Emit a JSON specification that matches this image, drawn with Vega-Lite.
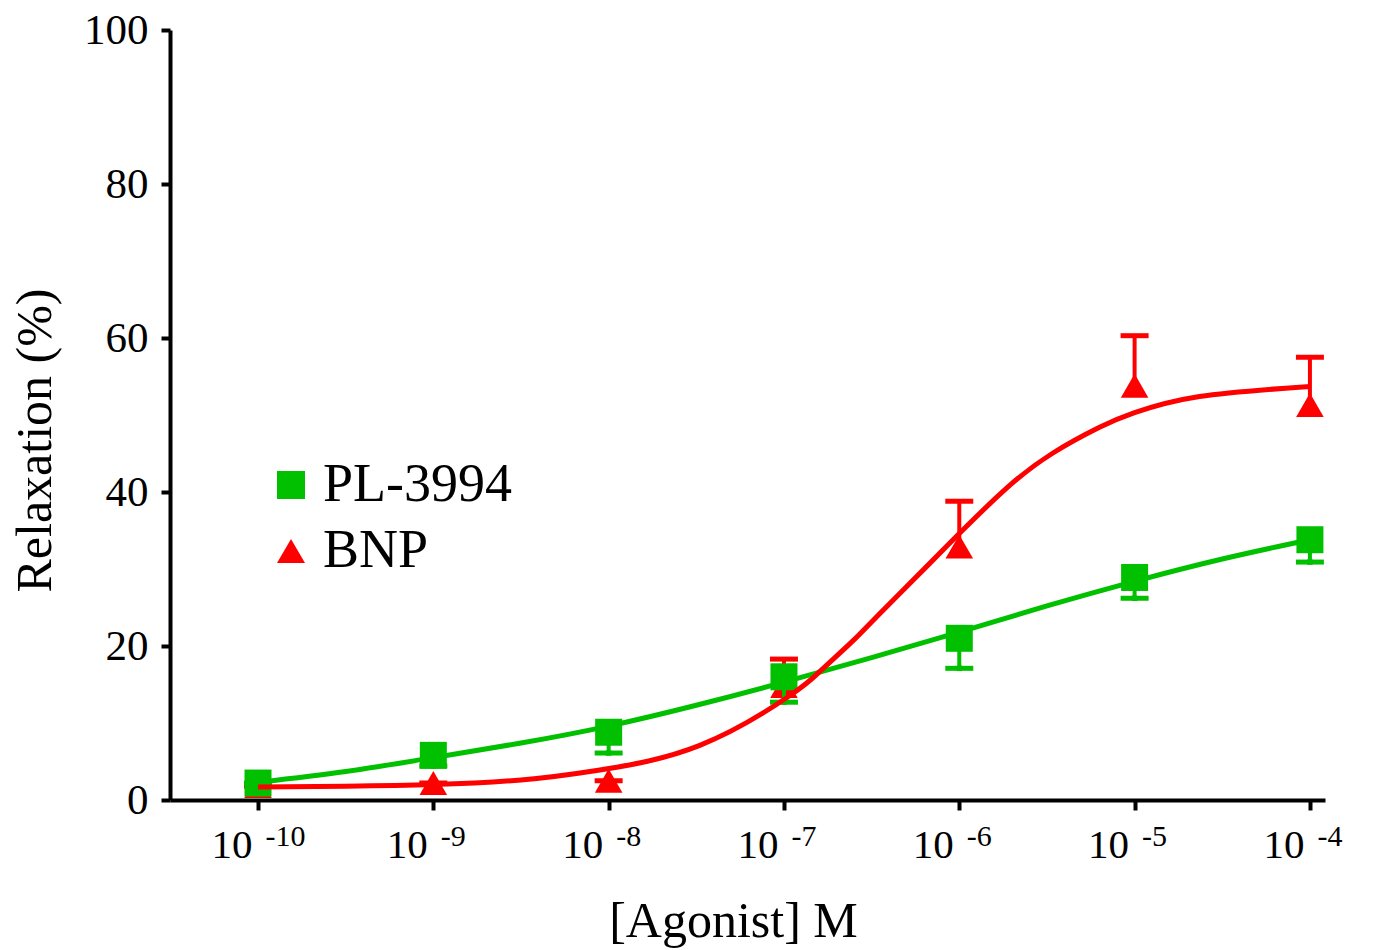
{
  "$schema": "https://vega.github.io/schema/vega-lite/v6.json",
  "autosize": {"type": "none"},
  "padding": {"left": 170, "top": 30, "right": 51, "bottom": 150},
  "width": 1155,
  "height": 770,
  "background": "white",
  "config": {
    "font": "Liberation Serif",
    "view": {"stroke": null},
    "axis": {"domainColor": "black", "tickColor": "black", "labelColor": "black", "titleColor": "black", "grid": false, "titleFontWeight": "normal"},
    "legend": {"labelFont": "Liberation Serif", "labelLimit": 500}
  },
  "datasets": {
    "points": [
      {"series": "BNP", "logx": -10, "y": 1.8, "lo": 1.8, "hi": 1.8, "cap": 1.8},
      {"series": "BNP", "logx": -9, "y": 2.2, "lo": 2.2, "hi": 2.2, "cap": 2.2},
      {"series": "BNP", "logx": -8, "y": 2.5, "lo": 2.5, "hi": 2.5, "cap": 2.5},
      {"series": "BNP", "logx": -7, "y": 14.8, "lo": 14.8, "hi": 18.3, "cap": 18.3},
      {"series": "BNP", "logx": -6, "y": 32.9, "lo": 32.9, "hi": 38.8, "cap": 38.8},
      {"series": "BNP", "logx": -5, "y": 53.8, "lo": 53.8, "hi": 60.3, "cap": 60.3},
      {"series": "BNP", "logx": -4, "y": 51.3, "lo": 51.3, "hi": 57.5, "cap": 57.5},
      {"series": "PL-3994", "logx": -10, "y": 2.2, "lo": 2.2, "hi": 2.2, "cap": 2.2},
      {"series": "PL-3994", "logx": -9, "y": 5.8, "lo": 4.4, "hi": 5.8, "cap": 4.4},
      {"series": "PL-3994", "logx": -8, "y": 8.8, "lo": 6.1, "hi": 8.8, "cap": 6.1},
      {"series": "PL-3994", "logx": -7, "y": 16.0, "lo": 12.7, "hi": 16.0, "cap": 12.7},
      {"series": "PL-3994", "logx": -6, "y": 21.0, "lo": 17.1, "hi": 21.0, "cap": 17.1},
      {"series": "PL-3994", "logx": -5, "y": 28.9, "lo": 26.2, "hi": 28.9, "cap": 26.2},
      {"series": "PL-3994", "logx": -4, "y": 33.8, "lo": 30.9, "hi": 33.8, "cap": 30.9}
    ],
    "curves": [
      {"series": "PL-3994", "logx": -10, "y": 2.3},
      {"series": "PL-3994", "logx": -9.5, "y": 3.7},
      {"series": "PL-3994", "logx": -9, "y": 5.5},
      {"series": "PL-3994", "logx": -8.5, "y": 7.4},
      {"series": "PL-3994", "logx": -8, "y": 9.6},
      {"series": "PL-3994", "logx": -7.5, "y": 12.3},
      {"series": "PL-3994", "logx": -7, "y": 15.3},
      {"series": "PL-3994", "logx": -6.5, "y": 18.5},
      {"series": "PL-3994", "logx": -6, "y": 21.8},
      {"series": "PL-3994", "logx": -5.5, "y": 25.2},
      {"series": "PL-3994", "logx": -5, "y": 28.4},
      {"series": "PL-3994", "logx": -4.5, "y": 31.3},
      {"series": "PL-3994", "logx": -4, "y": 33.8},
      {"series": "BNP", "logx": -10, "y": 1.7},
      {"series": "BNP", "logx": -9.5, "y": 1.8},
      {"series": "BNP", "logx": -9, "y": 2.0},
      {"series": "BNP", "logx": -8.5, "y": 2.6},
      {"series": "BNP", "logx": -8.05, "y": 3.9},
      {"series": "BNP", "logx": -7.48, "y": 7.1},
      {"series": "BNP", "logx": -6.97, "y": 13.5},
      {"series": "BNP", "logx": -6.79, "y": 16.8},
      {"series": "BNP", "logx": -6.61, "y": 20.6},
      {"series": "BNP", "logx": -6.45, "y": 24.3},
      {"series": "BNP", "logx": -6.17, "y": 30.7},
      {"series": "BNP", "logx": -6.0, "y": 34.6},
      {"series": "BNP", "logx": -5.73, "y": 40.5},
      {"series": "BNP", "logx": -5.47, "y": 45.0},
      {"series": "BNP", "logx": -5.2, "y": 48.4},
      {"series": "BNP", "logx": -5.0, "y": 50.3},
      {"series": "BNP", "logx": -4.63, "y": 52.4},
      {"series": "BNP", "logx": -4.0, "y": 53.7}
    ]
  },
  "resolve": {"axis": {"x": "independent"}},
  "layer": [
    {
      "data": {"name": "points"},
      "encoding": {
        "x": {
          "field": "logx", "type": "quantitative",
          "scale": {"domain": [-10.502, -3.914], "nice": false, "zero": false},
          "axis": {
            "values": [-10, -9, -8, -7, -6, -5, -4],
            "labelExpr": "'10'",
            "labelAlign": "right",
            "labelOffset": -6,
            "labelFontSize": 41,
            "labelBaseline": "top",
            "labelPadding": 15,
            "labelFlush": false,
            "labelOverlap": false,
            "tickSize": 10,
            "tickWidth": 4,
            "domainWidth": 4,
            "title": "[Agonist] M",
            "titleFontSize": 50,
            "titleX": 563,
            "titleY": 136,
            "titleAlign": "center",
            "titleBaseline": "alphabetic"
          }
        },
        "y": {
          "field": "y", "type": "quantitative",
          "scale": {"domain": [0, 100], "nice": false},
          "axis": {
            "values": [0, 20, 40, 60, 80, 100],
            "labelFontSize": 43,
            "labelPadding": 13,
            "labelBaseline": "middle",
            "labelFlush": false,
            "tickSize": 9,
            "tickWidth": 4,
            "domainWidth": 4,
            "title": "Relaxation (%)",
            "titleFontSize": 50,
            "titleAngle": 270,
            "titleX": -135,
            "titleY": 410,
            "titleAlign": "center",
            "titleBaseline": "middle"
          }
        },
        "color": {
          "field": "series", "type": "nominal",
          "scale": {"domain": ["PL-3994", "BNP"], "range": ["#00c000", "#ff0000"]},
          "legend": {
            "orient": "none", "legendX": 94, "legendY": 428, "title": null,
            "labelFontSize": 54, "labelLimit": 500, "symbolSize": 784, "rowPadding": 12, "padding": 0,
            "labelOffset": 5, "symbolStrokeWidth": 0, "symbolOpacity": 1, "labelColor": "black"
          }
        },
        "shape": {
          "field": "series", "type": "nominal",
          "scale": {"domain": ["PL-3994", "BNP"], "range": ["square", "triangle-up"]},
          "legend": {
            "orient": "none", "legendX": 94, "legendY": 428, "title": null,
            "labelFontSize": 54, "labelLimit": 500, "symbolSize": 784, "rowPadding": 12, "padding": 0,
            "labelOffset": 5, "symbolStrokeWidth": 0, "symbolOpacity": 1, "labelColor": "black"
          }
        }
      },
      "layer": [
        {
          "transform": [{"filter": "datum.series === 'BNP'"}],
          "layer": [
            {"mark": {"type": "rule", "strokeWidth": 4}, "encoding": {"y": {"field": "lo", "type": "quantitative"}, "y2": {"field": "hi"}}},
            {"mark": {"type": "tick", "orient": "horizontal", "thickness": 5, "size": 28, "opacity": 1}, "encoding": {"y": {"field": "cap", "type": "quantitative"}}},
            {"mark": {"type": "point", "filled": true, "opacity": 1, "size": 760, "strokeWidth": 0}}
          ]
        },
        {
          "transform": [{"filter": "datum.series === 'PL-3994'"}],
          "layer": [
            {"mark": {"type": "rule", "strokeWidth": 4}, "encoding": {"y": {"field": "lo", "type": "quantitative"}, "y2": {"field": "hi"}}},
            {"mark": {"type": "tick", "orient": "horizontal", "thickness": 5, "size": 28, "opacity": 1}, "encoding": {"y": {"field": "cap", "type": "quantitative"}}},
            {"mark": {"type": "point", "filled": true, "opacity": 1, "size": 729, "strokeWidth": 0}}
          ]
        }
      ]
    },
    {
      "data": {"name": "curves"},
      "mark": {"type": "line", "interpolate": "natural", "strokeWidth": 5},
      "encoding": {
        "x": {
          "field": "logx", "type": "quantitative",
          "scale": {"domain": [-10.502, -3.914], "nice": false, "zero": false},
          "axis": {
            "orient": "bottom",
            "values": [-10, -9, -8, -7, -6, -5, -4],
            "labelExpr": "'-' + abs(datum.value)",
            "labelAlign": "left",
            "labelOffset": 7,
            "labelFontSize": 30,
            "labelBaseline": "top",
            "labelPadding": 21,
            "labelFlush": false,
            "labelOverlap": false,
            "ticks": false,
            "tickSize": 0,
            "domain": false,
            "title": null
          }
        },
        "y": {"field": "y", "type": "quantitative"},
        "color": {"field": "series", "type": "nominal", "legend": null},
        "order": {"field": "logx", "type": "quantitative"}
      }
    }
  ]
}
